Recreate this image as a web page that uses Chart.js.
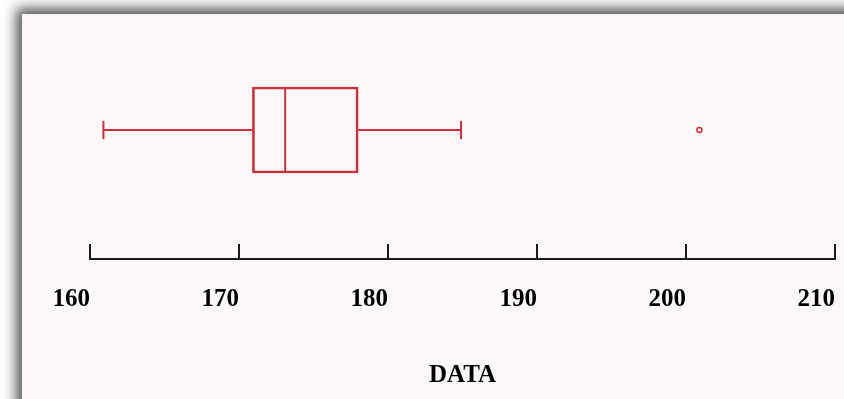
<!DOCTYPE html>
<html>
<head>
<meta charset="utf-8">
<script src="https://cdn.jsdelivr.net/npm/chart.js@4/dist/chart.umd.min.js"></script>
<style>
  html, body { margin: 0; padding: 0; background: #fff; overflow: hidden; }
  #panel {
    position: absolute; left: 22px; top: 14px; width: 900px; height: 460px;
    background: #fdf7f7;
    box-shadow: -6px -6px 12px rgba(0,0,0,0.65);
  }
  #wrap { position: absolute; left: 0; top: 0; width: 844px; height: 399px; }
</style>
</head>
<body>
<div id="panel"></div>
<div id="wrap"><canvas id="chart"></canvas></div>
<script>
var categories = ["DATA"];
var boxQuartiles = [170.9, 178.0];
var medianValue = [173.1];
var whiskerValues = [160.9, 184.9];
var outlierValues = [200.9];
var tickValues = [160, 170, 180, 190, 200, 210];

var red = "#c8323c";
var cat = categories[0];

window.addEventListener("load", function() {
  var data = {
    labels: categories,
    datasets: [
      {
        type: "bar",
        data: [boxQuartiles],
        backgroundColor: "rgba(0,0,0,0)",
        borderColor: red,
        borderWidth: 2,
        borderSkipped: false,
        barThickness: 86
      },
      {
        type: "scatter",
        showLine: true,
        spanGaps: false,
        data: [
          {x: whiskerValues[0], y: cat}, {x: boxQuartiles[0], y: cat},
          {x: null, y: cat},
          {x: boxQuartiles[1], y: cat}, {x: whiskerValues[1], y: cat}
        ],
        borderColor: red,
        borderWidth: 2,
        pointRadius: 0
      },
      {
        type: "scatter",
        data: whiskerValues.map(function(v) { return {x: v, y: cat}; }),
        pointStyle: "line",
        rotation: 90,
        pointRadius: 9,
        borderColor: red,
        borderWidth: 2
      },
      {
        type: "scatter",
        data: medianValue.map(function(v) { return {x: v, y: cat}; }),
        pointStyle: "line",
        rotation: 90,
        pointRadius: 43,
        borderColor: red,
        borderWidth: 2
      },
      {
        type: "scatter",
        data: outlierValues.map(function(v) { return {x: v, y: cat}; }),
        pointStyle: "circle",
        pointRadius: 2.5,
        borderColor: red,
        backgroundColor: "rgba(0,0,0,0)",
        borderWidth: 1.5
      }
    ]
  };

  window.chart = new Chart(document.getElementById("chart").getContext("2d"), {
    type: "bar",
    data: data,
    options: {
      indexAxis: "y",
      responsive: true,
      maintainAspectRatio: false,
      animation: false,
      events: [],
      layout: { autoPadding: false, padding: { left: 90, right: 9, top: 1, bottom: 0 } },
      plugins: { legend: { display: false }, tooltip: { enabled: false } },
      scales: {
        y: { type: "category", display: false, offset: true },
        x: {
          type: "linear",
          min: 160,
          max: 210,
          afterBuildTicks: function(axis) {
            axis.ticks = tickValues.map(function(v) { return {value: v}; });
          },
          afterFit: function(axis) {
            axis.paddingLeft = 0;
            axis.paddingRight = 0;
          },
          border: { display: true, color: "#1a1a1a", width: 2 },
          grid: { drawOnChartArea: false, drawTicks: true, tickLength: -15, color: "#1a1a1a", lineWidth: 2 },
          ticks: {
            align: "end",
            padding: 41,
            color: "#000",
            maxRotation: 0,
            autoSkip: false,
            font: { family: "'Liberation Serif', 'Times New Roman', serif", size: 25, weight: "bold" }
          },
          title: {
            display: true,
            text: "DATA",
            color: "#000",
            padding: { top: 5, bottom: 8 },
            font: { family: "'Liberation Serif', 'Times New Roman', serif", size: 25, weight: "bold" }
          }
        }
      }
    }
  });
});
</script>
</body>
</html>
